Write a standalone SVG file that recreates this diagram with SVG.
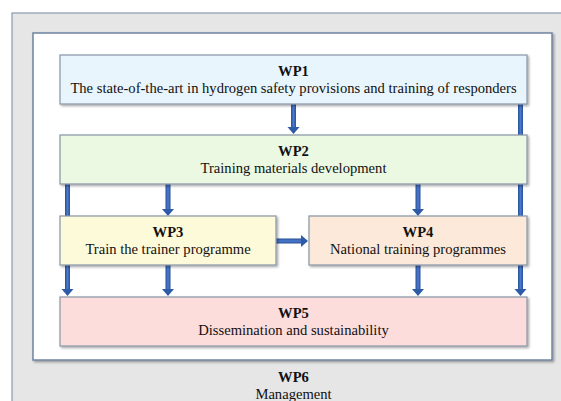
<svg xmlns="http://www.w3.org/2000/svg" width="561" height="401" viewBox="0 0 561 401">
<defs>
<linearGradient id="shaft" x1="0" y1="0" x2="1" y2="0">
<stop offset="0" stop-color="#2a4f96"/><stop offset="0.5" stop-color="#4a7ad0"/><stop offset="1" stop-color="#2a4f96"/>
</linearGradient>
<linearGradient id="shaftH" x1="0" y1="0" x2="0" y2="1">
<stop offset="0" stop-color="#2a4f96"/><stop offset="0.5" stop-color="#4a7ad0"/><stop offset="1" stop-color="#2a4f96"/>
</linearGradient>
<filter id="sh" x="-5%" y="-5%" width="110%" height="120%">
<feDropShadow dx="1.5" dy="1.5" stdDeviation="0.8" flood-color="#000" flood-opacity="0.35"/>
</filter>
</defs>
<style>
.box{stroke:#8795a6;stroke-width:1.2;filter:url(#sh)}
.t{font-family:"Liberation Serif","Times New Roman",serif;font-size:14.6px;fill:#111;text-anchor:middle}
.b{font-weight:bold}
.head{fill:#2f5aa6}
</style>
<g id="wp6">
<rect x="12" y="13" width="560" height="400" fill="#e6e6e6" stroke="#8a9bb0" stroke-width="1.2"/>
<text class="t b" x="293.5" y="382">WP6</text>
<text class="t" x="293.5" y="399">Management</text>
</g>
<g id="frame">
<rect x="33" y="33" width="519" height="327" fill="#ffffff" stroke="#6f84a0" stroke-width="1.5" filter="url(#sh)"/>
</g>
<g id="connectors">
<rect x="291" y="104" width="5" height="24" fill="url(#shaft)"/>
<path class="head" d="M287.5 127h12l-6 7z"/>
<rect x="518" y="104" width="5" height="186" fill="url(#shaft)"/>
<path class="head" d="M514.5 289h12l-6 7z"/>
<rect x="65" y="184" width="5" height="106" fill="url(#shaft)"/>
<path class="head" d="M61.5 289h12l-6 7z"/>
<rect x="165.5" y="184" width="5" height="26" fill="url(#shaft)"/>
<path class="head" d="M162 209h12l-6 7z"/>
<rect x="415.5" y="184" width="5" height="26" fill="url(#shaft)"/>
<path class="head" d="M412 209h12l-6 7z"/>
<rect x="165.5" y="265" width="5" height="25" fill="url(#shaft)"/>
<path class="head" d="M162 289h12l-6 7z"/>
<rect x="415.5" y="265" width="5" height="25" fill="url(#shaft)"/>
<path class="head" d="M412 289h12l-6 7z"/>
<rect x="276" y="238.5" width="26" height="5" fill="url(#shaftH)"/>
<path class="head" d="M301 235v12l7-6z"/>
</g>
<g id="wp1">
<rect class="box" x="60" y="55" width="467" height="49" fill="#e8f5fc"/>
<text class="t b" x="293.5" y="76">WP1</text>
<text class="t" x="293.5" y="93">The state-of-the-art in hydrogen safety provisions and training of responders</text>
</g>
<g id="wp2">
<rect class="box" x="60" y="135" width="467" height="49" fill="#ebf8e2"/>
<text class="t b" x="293.5" y="156">WP2</text>
<text class="t" x="293.5" y="173">Training materials development</text>
</g>
<g id="wp3">
<rect class="box" x="60" y="216" width="216" height="49" fill="#fdfad9"/>
<text class="t b" x="168" y="237">WP3</text>
<text class="t" x="168" y="254">Train the trainer programme</text>
</g>
<g id="wp4">
<rect class="box" x="309" y="216" width="218" height="49" fill="#fde9d9"/>
<text class="t b" x="418" y="237">WP4</text>
<text class="t" x="418" y="254">National training programmes</text>
</g>
<g id="wp5">
<rect class="box" x="60" y="297" width="467" height="49" fill="#fddcdc"/>
<text class="t b" x="293.5" y="318">WP5</text>
<text class="t" x="293.5" y="335">Dissemination and sustainability</text>
</g>
</svg>
